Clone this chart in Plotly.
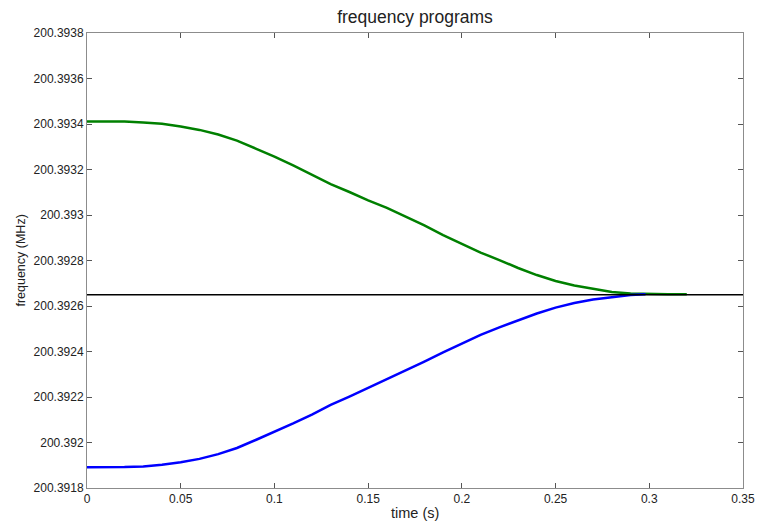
import plotly.graph_objects as go

# time axis (s)
t_green = [0, 0.01, 0.02, 0.03, 0.04, 0.05, 0.06, 0.07, 0.08, 0.09, 0.10, 0.11, 0.12, 0.13,
           0.14, 0.15, 0.16, 0.17, 0.18, 0.19, 0.20, 0.21, 0.22, 0.23, 0.24, 0.25, 0.26,
           0.27, 0.28, 0.29, 0.30, 0.31, 0.32]
f_green = [200.393411, 200.393411, 200.3934105, 200.393407, 200.393401, 200.393389,
           200.393374, 200.393354, 200.393327, 200.393292, 200.393257, 200.393218,
           200.393178, 200.393136, 200.393101, 200.393064, 200.393031, 200.392993,
           200.392954, 200.392912, 200.392873, 200.392835, 200.392802, 200.392767,
           200.392736, 200.392710, 200.392690, 200.392675, 200.392662, 200.392655,
           200.392652, 200.3926515, 200.3926515]

t_blue = [0, 0.01, 0.02, 0.03, 0.04, 0.05, 0.06, 0.07, 0.08, 0.09, 0.10, 0.11, 0.12, 0.13,
          0.14, 0.15, 0.16, 0.17, 0.18, 0.19, 0.20, 0.21, 0.22, 0.23, 0.24, 0.25, 0.26,
          0.27, 0.28, 0.29, 0.298]
f_blue = [200.391891, 200.391891, 200.391892, 200.391895, 200.391902, 200.391913,
          200.391928, 200.391949, 200.391976, 200.392011, 200.392046, 200.392084,
          200.392123, 200.392165, 200.392202, 200.392240, 200.392279, 200.392317,
          200.392356, 200.392396, 200.392435, 200.392473, 200.392506, 200.392536,
          200.392567, 200.392593, 200.392613, 200.392629, 200.392640, 200.392648,
          200.3926515]

t_ref = [0, 0.35]
f_ref = [200.39265, 200.39265]

x_ticks = [0, 0.05, 0.1, 0.15, 0.2, 0.25, 0.3, 0.35]
x_ticklabels = ["0", "0.05", "0.1", "0.15", "0.2", "0.25", "0.3", "0.35"]
y_ticks = [200.3918, 200.392, 200.3922, 200.3924, 200.3926, 200.3928,
           200.393, 200.3932, 200.3934, 200.3936, 200.3938]
y_ticklabels = ["200.3918", "200.392", "200.3922", "200.3924", "200.3926", "200.3928",
                "200.393", "200.3932", "200.3934", "200.3936", "200.3938"]

fig = go.Figure()
fig.add_trace(go.Scatter(x=t_green, y=f_green, mode="lines",
                         line=dict(color="rgb(0,128,0)", width=2.5), showlegend=False))
fig.add_trace(go.Scatter(x=t_blue, y=f_blue, mode="lines",
                         line=dict(color="rgb(0,0,255)", width=2.5), showlegend=False))
fig.add_trace(go.Scatter(x=t_ref, y=f_ref, mode="lines",
                         line=dict(color="black", width=1.5), showlegend=False))

axis_common = dict(showgrid=False, zeroline=False, showline=True, linecolor="#8c8c8c",
                   linewidth=1, mirror="ticks", ticks="inside", ticklen=5,
                   tickcolor="#555555", tickfont=dict(size=12, color="#222222"),
                   automargin=False, ticklabeloverflow="allow")

fig.update_layout(
    width=757, height=522,
    margin=dict(l=87, r=14, t=33, b=34),
    paper_bgcolor="white", plot_bgcolor="white",
    font=dict(family="Liberation Sans, Arial, sans-serif", color="#222222"),
    title=dict(text="frequency programs", x=0.5, xref="paper", xanchor="center",
               y=0.967, yref="container", yanchor="middle", font=dict(size=17.5)),
    xaxis=dict(range=[0, 0.35], tickvals=x_ticks, ticktext=x_ticklabels, **axis_common),
    yaxis=dict(range=[200.3918, 200.3938], tickvals=y_ticks, ticktext=y_ticklabels,
               **axis_common),
    annotations=[
        dict(text="time (s)", xref="paper", yref="paper", x=0.5, y=-0.055,
             xanchor="center", yanchor="middle", showarrow=False, font=dict(size=14.5)),
        dict(text="frequency (MHz)", xref="paper", yref="paper", x=-0.102, y=0.5,
             xanchor="center", yanchor="middle", textangle=-90, showarrow=False,
             font=dict(size=12.5)),
    ],
)

# remove the default page margin so the figure fills the 757x522 window exactly
fig.write_html("out.html", config={"displayModeBar": False},
               post_script="document.body.style.margin='0';document.body.style.overflow='hidden';")
